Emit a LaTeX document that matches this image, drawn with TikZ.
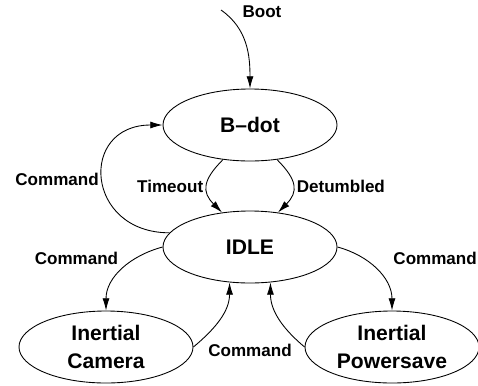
\documentclass[tikz,border=0pt]{standalone}
\usepackage{fontspec}
\setmainfont{Liberation Sans}
\usepackage{tikz}
\usetikzlibrary{shapes.geometric, arrows.meta}

\begin{document}
\begin{tikzpicture}[node distance=2cm, >={Latex[length=7pt,width=4pt]}, line width=0.5pt,
		state/.style={draw, ellipse, inner sep=0pt, minimum width=3.48cm, minimum height=1.44cm, align=center, font=\fontsize{12}{16}\selectfont\bfseries},
		lbl/.style={font=\fontsize{9.7}{11}\selectfont\bfseries, inner sep=2pt}]
		\useasboundingbox (0,0) rectangle (9.56,-7.7);
		
		% Draw the states
		\node (bdot) [state] at (5.0,-2.5) {B--dot};
		\node (idle) [state, below of=bdot, node distance=2.44cm] {IDLE};
		\node (camera) [state, below of=idle, xshift=-2.88cm] {Inertial\\Camera};
		\node (powersave) [state, below of=idle, xshift=2.84cm] {Inertial\\Powersave};
		
		% Draw the entry arrow
		\node (boot) [lbl, above of=bdot, node distance=2.26cm, xshift=0.24cm] {Boot};
		\coordinate (start) at (4.42,-0.2);
		\draw[->] (start) to[out=-35,in=90] (bdot.north);
		
		% Connect the states with arrows
		\draw[->] (idle.170) to[out=180,in=180,looseness=2] node[lbl, left] {Command} (bdot.west);
		\draw[->] (bdot.232) to[out=225,in=135,looseness=1.4] node[lbl, left] {Timeout} (idle.129);
		\draw[->] (bdot.-52) to[out=-45,in=45,looseness=1.4] node[lbl, right] {Detumbled} (idle.51);
		\draw[->] (idle.west) to[out=195,in=90] node[lbl, left=8pt, pos=0.3] {Command} (camera.north);
		\draw[->] (idle.east) to[out=-15,in=90] node[lbl, right=15pt, pos=0.3] {Command} (powersave.north);
		\draw[->] (camera.east) to[out=40,in=-90] (idle.-120);
		\draw[->] (powersave.west) to[out=140,in=-90] (idle.-60);
		
		% Draw the label between the return arrows
		\node (cmd) [lbl, below of=idle, node distance=2.06cm] {Command};
\end{tikzpicture}
\end{document}
